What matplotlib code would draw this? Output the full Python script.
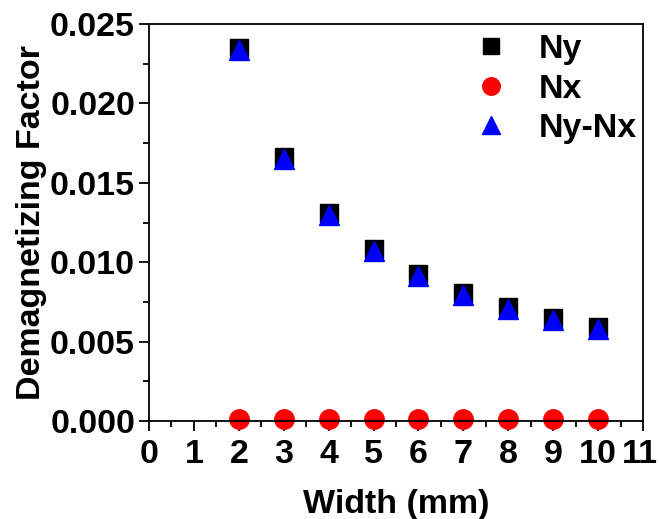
import matplotlib.pyplot as plt
import matplotlib.transforms as mtransforms
from matplotlib.ticker import MultipleLocator

plt.rcParams['font.family'] = ['Liberation Sans', 'DejaVu Sans']
plt.rcParams['font.weight'] = 'bold'

width = [2, 3, 4, 5, 6, 7, 8, 9, 10]
ny = [0.0235, 0.01665, 0.01310, 0.01080, 0.00925, 0.00805, 0.00718, 0.00648, 0.00592]
nx = [0.00015, 0.00012, 0.00011, 0.00010, 0.00010, 0.00010, 0.00010, 0.00010, 0.00010]
ny_nx = [0.02335, 0.01653, 0.01299, 0.01070, 0.00915, 0.00795, 0.00708, 0.00638, 0.00582]
x_ticks = list(range(0, 12))

fig = plt.figure(figsize=(6.59, 5.19), dpi=100)
ax = fig.add_axes([149 / 659, 1 - 421 / 519, (643 - 149) / 659, (421 - 24) / 519])

ax.plot(width, ny, 's', color='black', markersize=13, label='Ny', clip_on=False)
ax.plot(width, nx, 'o', color='red', markersize=14, label='Nx', clip_on=False)
ax.plot(width, ny_nx, '^', color='blue', markersize=15, label='Ny-Nx', clip_on=False)

ax.set_xlim(0, 11)
ax.set_ylim(0, 0.025)
ax.xaxis.set_minor_locator(MultipleLocator(0.5))
ax.yaxis.set_major_locator(MultipleLocator(0.005))
ax.yaxis.set_minor_locator(MultipleLocator(0.0025))
ax.yaxis.set_major_formatter(plt.FormatStrFormatter('%.3f'))
ax.tick_params(which='major', direction='out', length=7, width=1.3, labelsize=24.5)
ax.tick_params(axis='x', which='major', pad=6)
ax.tick_params(axis='y', which='major', pad=3)
ax.tick_params(which='minor', direction='out', length=4, width=1.3)
for s in ax.spines.values():
    s.set_linewidth(1.3)

ax.set_xticks(x_ticks, [str(t) for t in x_ticks])
# nudge the last x label ("11") left so it stays inside the figure
last = ax.xaxis.get_major_ticks()[-1].label1
last.set_horizontalalignment('right')
last.set_transform(last.get_transform() + mtransforms.ScaledTranslation(0.148, 0, fig.dpi_scale_trans))

ax.set_xlabel('Width (mm)', fontsize=24.5, fontweight='bold', labelpad=14)
ax.set_ylabel('Demagnetizing Factor', fontsize=24.5, fontweight='bold', labelpad=2)

ax.legend(loc='upper right', bbox_to_anchor=(1.008, 1.0), frameon=False, fontsize=24.5,
          handlelength=1.0, handletextpad=0.9, labelspacing=0.25, borderaxespad=0.0,
          borderpad=0.3, markerscale=0.9)

fig.savefig('out.png', dpi=100)
